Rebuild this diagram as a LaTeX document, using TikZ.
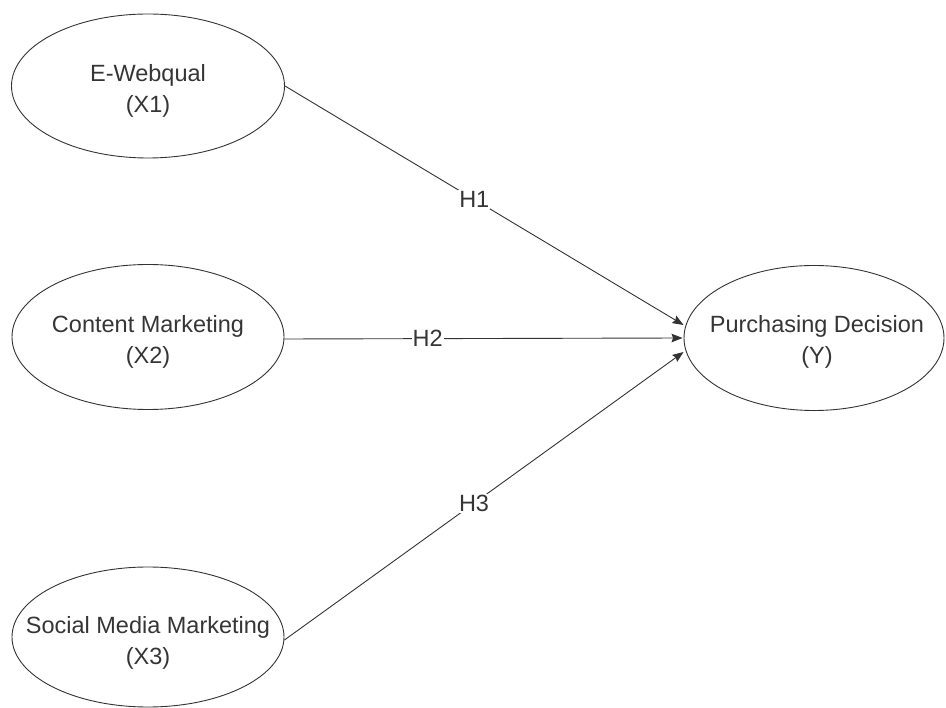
\documentclass[tikz,border=0pt]{standalone}
\usepackage{fontspec}
\setmainfont{Liberation Sans}
\usetikzlibrary{shapes.geometric,arrows.meta}
\definecolor{linec}{HTML}{333333}
\definecolor{textc}{HTML}{353535}
\begin{document}
\begin{tikzpicture}[x=1pt,y=-1pt,
  latent/.style={draw=linec, line width=0.9pt, ellipse, inner sep=0pt},
  ltext/.style={align=center, text=textc, font=\fontsize{23.5}{31}\selectfont, inner sep=0pt},
  conn/.style={draw=linec, line width=0.9pt, -{Stealth[length=11pt,width=8.5pt,inset=1.5pt]}},
  hlab/.style={fill=white, text=textc, font=\fontsize{23.5}{27}\selectfont, inner sep=1pt}]
\useasboundingbox (0,0) rectangle (946,708);
\node[latent, minimum width=273, minimum height=144] (x1) at (148,86) {};
\node[ltext] (t1) at (148,91) {E-Webqual\\(X1)};
\node[latent, minimum width=272, minimum height=145] (x2) at (148,337) {};
\node[ltext] (t2) at (148,342) {Content Marketing\\(X2)};
\node[latent, minimum width=272, minimum height=140] (x3) at (148,637) {};
\node[ltext] (t3) at (148,643) {Social Media Marketing\\(X3)};
\node[latent, minimum width=260, minimum height=145] (y) at (814,338) {};
\node[ltext] (ty) at (817,342) {Purchasing Decision\\(Y)};
\coordinate (e1) at ([yshift=13pt]y.west);
\coordinate (e2) at ([xshift=-1pt]y.west);
\coordinate (e3) at ([yshift=-14pt]y.west);
\draw[conn] (x1.east) -- node[hlab, pos=0.475] (h1) {H1} (e1);
\draw[conn] ([yshift=-2pt]x2.east) -- node[hlab, pos=0.36] (h2) {H2} (e2);
\draw[conn] ([yshift=-3pt]x3.east) -- node[hlab, pos=0.475] (h3) {H3} (e3);
\end{tikzpicture}
\end{document}
